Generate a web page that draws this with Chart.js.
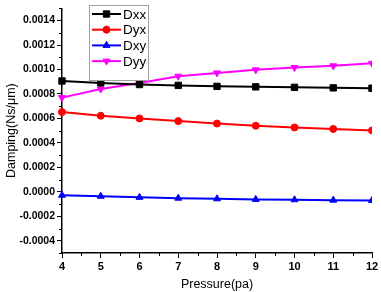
<!DOCTYPE html>
<html>
<head>
<meta charset="utf-8">
<script src="https://cdn.jsdelivr.net/npm/chart.js@4.4.0/dist/chart.umd.min.js"></script>
<style>
html,body{margin:0;padding:0;background:#fff;}
#wrap{width:381px;height:292px;position:relative;}
</style>
</head>
<body>
<div id="wrap"><canvas id="c" width="381" height="292"></canvas></div>
<script>
const pressure = [4, 5, 6, 7, 8, 9, 10, 11, 12];
const Dxx = [0.000906, 0.000890, 0.000877, 0.000870, 0.000862, 0.000858, 0.000854, 0.000850, 0.000847];
const Dyx = [0.000652, 0.000622, 0.000600, 0.000578, 0.000558, 0.000540, 0.000526, 0.000514, 0.000502];
const Dxy = [-0.000028, -0.000036, -0.000045, -0.000052, -0.000057, -0.000062, -0.000065, -0.000068, -0.000070];
const Dyy = [0.000770, 0.000840, 0.000890, 0.000945, 0.000972, 0.000997, 0.001016, 0.001030, 0.001050];
const seriesNames = ['Dxx', 'Dyx', 'Dxy', 'Dyy'];
const xTicks = [4, 5, 6, 7, 8, 9, 10, 11, 12];
const xMinorTicks = [4.5, 5.5, 6.5, 7.5, 8.5, 9.5, 10.5, 11.5];
const yTicks = [-0.0004, -0.0002, 0.0000, 0.0002, 0.0004, 0.0006, 0.0008, 0.0010, 0.0012, 0.0014];
const yMinorTicks = [-0.0005, -0.0003, -0.0001, 0.0001, 0.0003, 0.0005, 0.0007, 0.0009, 0.0011, 0.0013, 0.0015];

const FONT = '"Liberation Sans", Arial, sans-serif';

function mk(label, data, color, style, rot, radius) {
  return {
    label, data: data.map((v, i) => ({x: pressure[i], y: v})),
    borderColor: color, backgroundColor: color,
    borderWidth: 2, pointStyle: style, pointRotation: rot,
    pointRadius: radius, pointHoverRadius: radius, pointBorderWidth: 1,
    tension: 0, clip: {left: 6, top: 6, right: 0, bottom: 6}
  };
}

const datasets = [
  mk(seriesNames[0], Dxx, '#000000', 'rect', 0, 4.5),
  mk(seriesNames[1], Dyx, '#ff0000', 'circle', 0, 3.5),
  mk(seriesNames[2], Dxy, '#0000ff', 'triangle', 0, 4),
  mk(seriesNames[3], Dyy, '#ff00ff', 'triangle', 180, 4)
];

const minorTicksPlugin = {
  id: 'minorTicks',
  afterDraw(chart) {
    const ctx = chart.ctx;
    const xs = chart.scales.x, ys = chart.scales.y;
    ctx.save();
    ctx.strokeStyle = '#000';
    ctx.lineWidth = 1;
    ctx.beginPath();
    yMinorTicks.forEach(v => {
      const p = Math.round(ys.getPixelForValue(v)) + 0.5;
      ctx.moveTo(xs.left, p); ctx.lineTo(xs.left - 3, p);
    });
    xMinorTicks.forEach(v => {
      const p = Math.round(xs.getPixelForValue(v)) + 0.5;
      ctx.moveTo(p, ys.bottom); ctx.lineTo(p, ys.bottom + 3);
    });
    ctx.stroke();
    ctx.restore();
  }
};

const legendBoxPlugin = {
  id: 'legendBox',
  afterDraw(chart) {
    const ctx = chart.ctx;
    const bx = 89.5, by = 5.5, bw = 59, bh = 75;
    ctx.save();
    ctx.fillStyle = '#fff';
    ctx.fillRect(bx, by, bw, bh);
    ctx.strokeStyle = '#a0a0a0';
    ctx.lineWidth = 1;
    ctx.strokeRect(bx, by, bw, bh);
    chart.data.datasets.forEach((ds, i) => {
      const y = 14 + i * 15.7;
      ctx.strokeStyle = ds.borderColor;
      ctx.fillStyle = ds.borderColor;
      ctx.lineWidth = 2;
      ctx.beginPath();
      ctx.moveTo(92, y); ctx.lineTo(121, y);
      ctx.stroke();
      ctx.lineWidth = 1;
      Chart.helpers.drawPoint(ctx, {pointStyle: ds.pointStyle, rotation: ds.pointRotation, radius: ds.pointRadius, borderWidth: 1}, 106.5, y);
      ctx.fillStyle = '#000';
      ctx.font = '13.5px ' + FONT;
      ctx.textBaseline = 'middle';
      ctx.textAlign = 'left';
      ctx.fillText(ds.label, 123, y + 1);
    });
    ctx.restore();
  }
};

new Chart(document.getElementById('c'), {
  type: 'line',
  data: {datasets},
  options: {
    responsive: false,
    animation: false,
    devicePixelRatio: 1,
    layout: {padding: {top: 2, right: 9, left: 0, bottom: 0}},
    plugins: {legend: {display: false}, tooltip: {enabled: false}},
    scales: {
      x: {
        type: 'linear', min: 4, max: 12,
        afterBuildTicks: s => { s.ticks = xTicks.map(v => ({value: v})); },
        afterFit: s => { s.height = 39; },
        border: {display: true, color: '#000', width: 1.5},
        grid: {display: true, drawOnChartArea: false, drawTicks: true, tickLength: 5, tickColor: '#000', tickWidth: 1},
        ticks: {color: '#000', font: {family: FONT, size: 11, weight: 'bold'}, padding: 2, maxRotation: 0,
                callback: v => String(v)},
        title: {display: true, text: 'Pressure(pa)', color: '#000', font: {family: FONT, size: 12.5}, padding: {top: 0, bottom: 0}}
      },
      y: {
        type: 'linear', min: -0.0005, max: 0.0015,
        afterBuildTicks: s => { s.ticks = yTicks.map(v => ({value: v})); },
        afterFit: s => { s.width = 62; },
        border: {display: true, color: '#000', width: 1.5},
        grid: {display: true, drawOnChartArea: false, drawTicks: true, tickLength: 5, tickColor: '#000', tickWidth: 1},
        ticks: {color: '#000', font: {family: FONT, size: 10.5, weight: 'bold'}, padding: 2,
                callback: v => v.toFixed(4)},
        title: {display: true, text: 'Damping(Ns/μm)', color: '#000', font: {family: FONT, size: 12.5}, padding: {top: 4, bottom: 0}}
      }
    }
  },
  plugins: [minorTicksPlugin, legendBoxPlugin]
});
</script>
</body>
</html>
